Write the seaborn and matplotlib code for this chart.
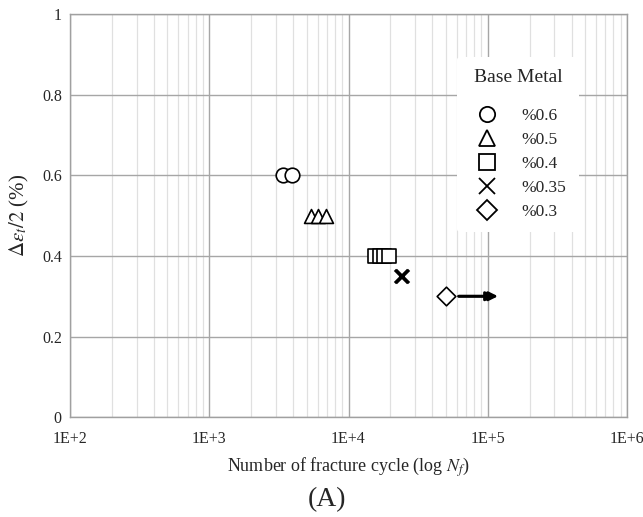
import matplotlib
matplotlib.use("Agg")
import matplotlib.pyplot as plt
import seaborn as sns
import pandas as pd
from matplotlib.lines import Line2D
from matplotlib.ticker import LogLocator, FixedLocator, FixedFormatter, NullFormatter

# Data
labels = ["%0.6", "%0.5", "%0.4", "%0.35", "%0.3"]
cycles_06 = [3400, 3900]
cycles_05 = [5350, 6000, 6850]
cycles_04 = [15400, 16700, 18100, 19600]
cycles_035 = [24000, 24300]
cycles_03 = [50500]
strain = [0.6, 0.5, 0.4, 0.35, 0.3]
runout_end = 124000
xtick_vals = [1e2, 1e3, 1e4, 1e5, 1e6]
xtick_labels = ["1E+2", "1E+3", "1E+4", "1E+5", "1E+6"]
ytick_vals = [0, 0.2, 0.4, 0.6, 0.8, 1.0]
ytick_labels = ["0", "0.2", "0.4", "0.6", "0.8", "1"]

sns.set_style("white")
plt.rcParams['font.family'] = ['Liberation Serif', 'DejaVu Serif']
plt.rcParams['mathtext.fontset'] = 'stix'

fig = plt.figure(figsize=(6.43, 5.17), dpi=100)
ax = fig.add_axes([0.109, 0.193, 0.866, 0.780])

groups = [cycles_06, cycles_05, cycles_04, cycles_035, cycles_03]
markers = ['o', '^', 's', 'x', 'D']
sizes = [110, 100, 95, 90, 90]
for cyc, s, m, lab, sz in zip(groups, strain, markers, labels, sizes):
    df = pd.DataFrame({"N": cyc, "e": [s] * len(cyc)})
    if m == 'x':
        sns.scatterplot(data=df, x="N", y="e", marker=m, s=sz, color='black',
                        linewidth=2.2, ax=ax, zorder=5)
    else:
        sns.scatterplot(data=df, x="N", y="e", marker=m, s=sz, facecolor='white',
                        edgecolor='black', linewidth=1.2, ax=ax, zorder=5)

# run-out arrow (double head as in the reference)
for end in (runout_end, runout_end * 0.95):
    ax.annotate("", xy=(end, strain[4]), xytext=(cycles_03[0] * 1.17, strain[4]),
                arrowprops=dict(arrowstyle='-|>', color='black', lw=2, mutation_scale=13),
                zorder=6)

ax.set_xscale('log')
ax.set_xlim(1e2, 1e6)
ax.set_ylim(0, 1)
ax.xaxis.set_major_locator(FixedLocator(xtick_vals))
ax.xaxis.set_major_formatter(FixedFormatter(xtick_labels))
ax.xaxis.set_minor_locator(LogLocator(base=10, subs=range(2, 10), numticks=20))
ax.xaxis.set_minor_formatter(NullFormatter())
ax.yaxis.set_major_locator(FixedLocator(ytick_vals))
ax.yaxis.set_major_formatter(FixedFormatter(ytick_labels))

ax.grid(which='major', color='#a6a6a6', lw=1.0)
ax.grid(which='minor', axis='x', color='#e0e0e0', lw=0.9)
ax.set_axisbelow(True)
for sp in ax.spines.values():
    sp.set_color('#a0a0a0')
    sp.set_linewidth(1.0)
ax.tick_params(axis='both', which='both', length=0, labelsize=11.5)
ax.tick_params(axis='x', pad=10)
ax.tick_params(axis='y', pad=6)

ax.set_xlabel(r"Number of fracture cycle (log $N_f$)", fontsize=13, labelpad=6)
ax.set_ylabel(r"$\Delta\varepsilon_t/2$ (%)", fontsize=15, labelpad=8)

handles = [Line2D([], [], marker=m, ls='none', markersize=11 if m != 'D' else 10,
                  markerfacecolor='white' if m != 'x' else 'black',
                  markeredgecolor='black', markeredgewidth=1.3) for m in markers]
leg = ax.legend(handles, labels, title="Base Metal", loc='upper left',
                bbox_to_anchor=(0.68, 0.915), frameon=True, fontsize=12.5,
                title_fontsize=14, handletextpad=1.0, labelspacing=0.45,
                borderpad=0.7)
leg._legend_box.sep = 16
leg.get_frame().set_facecolor('white')
leg.get_frame().set_edgecolor('none')
leg.get_frame().set_alpha(1)

fig.text(0.509, 0.033, "(A)", fontsize=20, ha='center', va='center')

fig.savefig("out.png", dpi=100)
